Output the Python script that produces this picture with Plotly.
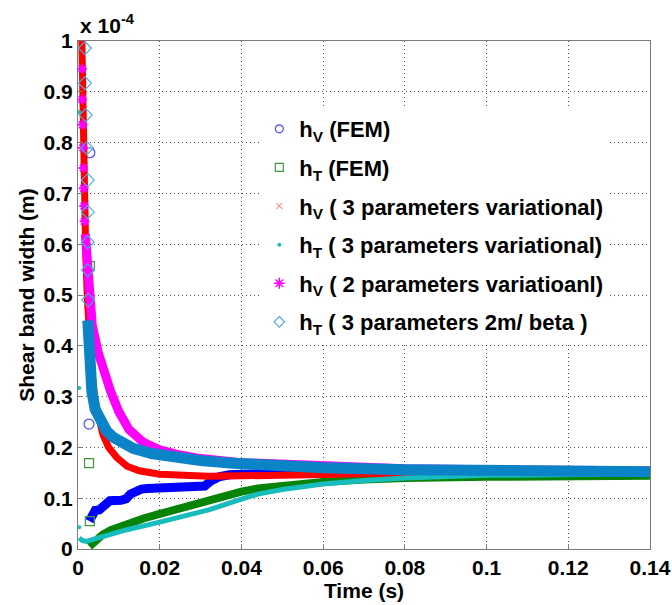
import plotly.graph_objects as go

# ---- data (y in units of 1e-4 m) ----
t_hv_fem = [0.0028, 0.0031, 0.0036, 0.0042, 0.0052, 0.0060, 0.0068, 0.0078, 0.0105, 0.0118, 0.0128,
            0.0140, 0.0155, 0.0170, 0.0295, 0.0310, 0.0325, 0.0345, 0.0370, 0.0420, 0.0500, 0.0700,
            0.1000, 0.1400]
y_hv_fem = [0.055, 0.062, 0.072, 0.076, 0.077, 0.082, 0.090, 0.095, 0.096, 0.099, 0.108,
            0.114, 0.118, 0.119, 0.120, 0.124, 0.134, 0.142, 0.146, 0.149, 0.150, 0.150,
            0.150, 0.150]
t_hv_fem_sparse = [0.0029, 0.0029, 0.0027]
y_hv_fem_sparse = [0.780, 0.425, 0.246]

t_ht_fem = [0.0028, 0.004, 0.006, 0.008, 0.012, 0.016, 0.020, 0.025, 0.030, 0.032, 0.036, 0.040,
            0.044, 0.050, 0.060, 0.070, 0.080, 0.100, 0.140]
y_ht_fem = [0.005, 0.015, 0.028, 0.037, 0.050, 0.060, 0.069, 0.080, 0.092, 0.099, 0.106, 0.113,
            0.119, 0.125, 0.132, 0.137, 0.140, 0.142, 0.144]
t_ht_fem_sparse = [0.0029, 0.0027, 0.0029]
y_ht_fem_sparse = [0.557, 0.169, 0.055]

t_hv_3p = [0.0009, 0.0011, 0.0013, 0.0016, 0.0019, 0.0023, 0.0028, 0.0034, 0.0042, 0.0050, 0.0061,
           0.0075, 0.0095, 0.012, 0.015, 0.020, 0.025, 0.032, 0.040, 0.050, 0.070, 0.140]
y_hv_3p = [1.02, 0.90, 0.80, 0.68, 0.58, 0.49, 0.42, 0.35, 0.29, 0.255, 0.225,
           0.200, 0.180, 0.163, 0.154, 0.147, 0.144, 0.143, 0.144, 0.146, 0.148, 0.149]

t_ht_3p = [0.0003, 0.001, 0.002, 0.004, 0.008, 0.012, 0.020, 0.030, 0.032, 0.040, 0.044, 0.050,
           0.060, 0.070, 0.080, 0.100, 0.140]
y_ht_3p = [0.022, 0.017, 0.015, 0.020, 0.030, 0.038, 0.053, 0.072, 0.077, 0.098, 0.108, 0.117,
           0.128, 0.135, 0.140, 0.145, 0.148]
t_ht_3p_sparse = [0.0003, 0.0003, 0.0003]
y_ht_3p_sparse = [0.860, 0.317, 0.043]

t_hv_2p = [0.0018, 0.0020, 0.0025, 0.0030, 0.0035, 0.0050, 0.0065, 0.0080,
           0.010, 0.0125, 0.016, 0.020, 0.025, 0.030, 0.040, 0.060, 0.080, 0.100, 0.140]
y_hv_2p = [0.62, 0.60, 0.53, 0.48, 0.44, 0.385, 0.345, 0.31,
           0.27, 0.235, 0.21, 0.195, 0.185, 0.178, 0.170, 0.162, 0.158, 0.156, 0.154]
t_hv_2p_sparse = [0.0010, 0.0010, 0.0011, 0.0012, 0.0013, 0.0014, 0.0015, 0.0016]
y_hv_2p_sparse = [0.945, 0.885, 0.835, 0.790, 0.750, 0.710, 0.675, 0.645]

t_ht_beta = [0.0024, 0.0028, 0.0034, 0.0042, 0.0054, 0.0070, 0.0086, 0.011, 0.0135, 0.018, 0.022,
             0.030, 0.038, 0.050, 0.060, 0.080, 0.100, 0.140]
y_ht_beta = [0.45, 0.38, 0.31, 0.275, 0.252, 0.232, 0.220, 0.207, 0.198, 0.188, 0.182,
             0.174, 0.169, 0.163, 0.160, 0.156, 0.154, 0.152]
t_ht_beta_sparse = [0.0017, 0.0017, 0.0019, 0.0022, 0.0024, 0.0024, 0.0024, 0.0024, 0.0025]
y_ht_beta_sparse = [0.986, 0.917, 0.854, 0.789, 0.726, 0.663, 0.604, 0.549, 0.490]

x_ticks = [0, 0.02, 0.04, 0.06, 0.08, 0.1, 0.12, 0.14]
y_ticks = [0, 0.1, 0.2, 0.3, 0.4, 0.5, 0.6, 0.7, 0.8, 0.9, 1]

names = ["h<sub>V</sub> (FEM)",
         "h<sub>T</sub> (FEM)",
         "h<sub>V</sub> ( 3 parameters variational)",
         "h<sub>T</sub> ( 3 parameters variational)",
         "h<sub>V</sub> ( 2 parameters variatioanl)",
         "h<sub>T</sub> ( 3 parameters 2m/ beta )"]

C_BLUE = "#0000FF"
C_GREEN = "#078307"
C_RED = "#FF0000"
C_CYAN = "#17BDBD"
C_MAG = "#FF00FF"
C_LB = "#0B84C7"
C_LB_M = "#4AAAE2"

FONT = "Liberation Sans, Arial, sans-serif"

fig = go.Figure()

def band(t, y, color, width):
    fig.add_trace(go.Scatter(x=t, y=y, mode="lines", line=dict(color=color, width=width),
                             showlegend=False, hoverinfo="skip"))

def sparse(t, y, color, symbol, size, lw=1.2):
    fig.add_trace(go.Scatter(x=t, y=y, mode="markers",
                             marker=dict(color=color, symbol=symbol, size=size, line=dict(color=color, width=lw)),
                             showlegend=False, hoverinfo="skip"))

# hV FEM
band(t_hv_fem, y_hv_fem, C_BLUE, 9)
sparse(t_hv_fem_sparse, y_hv_fem_sparse, "#4A4AFF", "circle-open", 10)
# hT FEM
band(t_ht_fem, y_ht_fem, C_GREEN, 8)
sparse(t_ht_fem_sparse, y_ht_fem_sparse, "#3A9A3A", "square-open", 9)
# hV 3 params
band(t_hv_3p, y_hv_3p, C_RED, 7)
# hT 3 params
band(t_ht_3p, y_ht_3p, C_CYAN, 5)
sparse(t_ht_3p_sparse, y_ht_3p_sparse, C_CYAN, "circle", 4, 0)
# hV 2 params
band(t_hv_2p, y_hv_2p, C_MAG, 9)
sparse(t_hv_2p_sparse, y_hv_2p_sparse, C_MAG, "asterisk-open", 8, 2)
# hT beta
band(t_ht_beta, y_ht_beta, C_LB, 11)
sparse(t_ht_beta_sparse, y_ht_beta_sparse, C_LB_M, "diamond-open", 10)

# legend entries
leg = [("circle-open", 8, 1.2, "#4A4AFF"),
       ("square-open", 8, 1.2, "#3A9A3A"),
       ("x-thin-open", 6, 1.0, "#FF6060"),
       ("circle", 4, 0, C_CYAN),
       ("asterisk-open", 9, 1.5, C_MAG),
       ("diamond-open", 8, 1.2, C_LB_M)]
for i, (sym, sz, lw, mc) in enumerate(leg):
    fig.add_trace(go.Scatter(x=[None], y=[None], mode="markers", name=names[i],
                             legendgroup=f"g{i}",
                             marker=dict(color=mc, symbol=sym, size=sz, line=dict(color=mc, width=lw))))

axis_common = dict(showline=True, linecolor="#7a7a7a", linewidth=1, mirror=True,
                   ticks="inside", ticklen=5, tickcolor="#7a7a7a",
                   showgrid=True, gridcolor="#555555", griddash="1px,3px", gridwidth=1,
                   zeroline=False, automargin=False,
                   tickfont=dict(family=FONT, size=21, color="black", weight="bold"))

fig.update_xaxes(range=[0, 0.14], tickvals=x_ticks, ticktext=[f"{v:g}" for v in x_ticks],
                 title=dict(text="Time (s)", font=dict(family=FONT, size=21, color="black", weight="bold"),
                            standoff=2),
                 **axis_common)
fig.update_yaxes(range=[0, 1], tickvals=y_ticks, ticktext=[f"{v:g}" for v in y_ticks],
                 title=dict(text="Shear band width (m)", font=dict(family=FONT, size=21, color="black", weight="bold"),
                            standoff=3),
                 **axis_common)

fig.add_annotation(x=0, y=1, xref="paper", yref="paper", xanchor="left", yanchor="bottom",
                   text="x 10<sup>-4</sup>", showarrow=False, yshift=2,
                   font=dict(family=FONT, size=21, color="black", weight="bold"))

fig.update_layout(
    width=672, height=605,
    margin=dict(l=78, r=22, t=41, b=56),
    paper_bgcolor="white", plot_bgcolor="white",
    showlegend=True,
    legend=dict(x=0.317, y=0.868, xanchor="left", yanchor="top",
                bgcolor="white", borderwidth=0, traceorder="grouped", tracegroupgap=7,
                font=dict(family=FONT, size=22, color="black", weight="bold")),
)

fig.write_html("out.html")
